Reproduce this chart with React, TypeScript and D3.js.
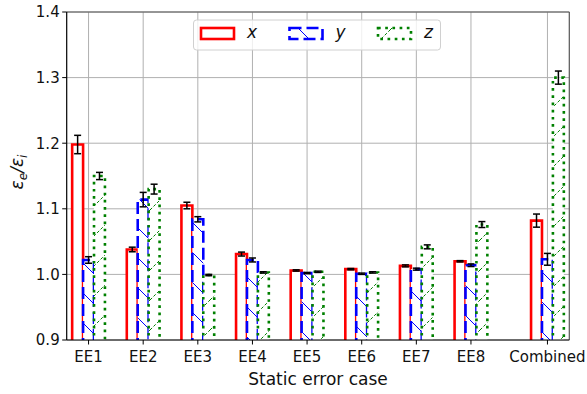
import React from "react";
import * as d3 from "d3";

// values
const categories = ["EE1", "EE2", "EE3", "EE4", "EE5", "EE6", "EE7", "EE8", "Combined"];
const xValues = [1.198, 1.038, 1.105, 1.031, 1.006, 1.008, 1.013, 1.02, 1.082];
const xErrors = [0.014, 0.0035, 0.005, 0.003, 0.001, 0.001, 0.0015, 0.001, 0.01];
const yValues = [1.022, 1.114, 1.084, 1.022, 1.002, 1.001, 1.008, 1.014, 1.023];
const yErrors = [0.005, 0.011, 0.004, 0.003, 0.001, 0.001, 0.0015, 0.002, 0.009];
const zValues = [1.15, 1.13, 0.999, 1.003, 1.004, 1.003, 1.042, 1.076, 1.3];
const zErrors = [0.0055, 0.0075, 0.001, 0.001, 0.001, 0.001, 0.003, 0.0045, 0.01];
const yTicks = [0.9, 1.0, 1.1, 1.2, 1.3, 1.4];

const width = 587;
const height = 394;
const margin = { left: 66.7, right: 17.7, top: 12, bottom: 54 };
const barWidth = 0.2;
const combinedGap = 0.4;
const font = "DejaVu Sans, Verdana, sans-serif";

const series = [
  { name: "x", values: xValues, errors: xErrors, color: "red", dash: "", hatch: "" },
  { name: "y", values: yValues, errors: yErrors, color: "blue", dash: "12,5", hatch: "hatchBack" },
  { name: "z", values: zValues, errors: zErrors, color: "green", dash: "2.7,4.5", hatch: "hatchFwd" },
];

const positions = categories.map((c, i) => (c === "Combined" ? i + combinedGap : i));

const App = () => {
  const x = d3
    .scaleLinear()
    .domain([-0.4, 8.8])
    .range([margin.left, width - margin.right]);
  const y = d3
    .scaleLinear()
    .domain([0.9, 1.4])
    .range([height - margin.bottom, margin.top]);

  const x0 = x.range()[0];
  const x1 = x.range()[1];
  const yb = y.range()[0];
  const yt = y.range()[1];
  const bw = x(barWidth) - x(0);

  return (
    <svg width={width} height={height} style={{ position: "absolute", left: 0, top: 0 }}>
      <defs>
        <clipPath id="plotArea">
          <rect x={x0} y={yt} width={x1 - x0} height={yb - yt} />
        </clipPath>
        <pattern id="hatchBack" patternUnits="userSpaceOnUse" width={30} height={30}>
          <path d="M0,0 L30,30 M-5,25 L5,35 M25,-5 L35,5" stroke="blue" strokeWidth={1} />
        </pattern>
        <pattern id="hatchFwd" patternUnits="userSpaceOnUse" width={30} height={30}>
          <path
            d="M0,30 L30,0 M-5,5 L5,-5 M25,35 L35,25"
            stroke="green"
            strokeWidth={1}
            strokeDasharray="3,2"
          />
        </pattern>
      </defs>
      <rect x={0} y={0} width={width} height={height} fill="white" />

      {/* grid */}
      <g stroke="#b0b0b0" strokeWidth={1}>
        {yTicks.map((t) => (
          <line key={"gy" + t} x1={x0} x2={x1} y1={y(t)} y2={y(t)} />
        ))}
        {positions.map((p, i) => (
          <line key={"gx" + i} x1={x(p)} x2={x(p)} y1={yt} y2={yb} />
        ))}
      </g>

      {/* bars */}
      <g clipPath="url(#plotArea)">
        {series.map((s, si) =>
          s.values.map((v, i) => {
            const left = x(positions[i] + (si - 1) * barWidth - barWidth / 2);
            const top = y(v);
            const bottom = yb + 10;
            return (
              <g key={s.name + i}>
                <rect x={left} y={top} width={bw} height={bottom - top} fill="white" />
                {s.hatch && (
                  <rect x={left} y={top} width={bw} height={bottom - top} fill={`url(#${s.hatch})`} />
                )}
                <path
                  d={`M${left},${bottom} L${left},${top} L${left + bw},${top} L${left + bw},${bottom}`}
                  fill="none"
                  stroke={s.color}
                  strokeWidth={2.6}
                  strokeDasharray={s.dash || undefined}
                />
              </g>
            );
          })
        )}
      </g>

      {/* error bars */}
      <g stroke="black" strokeWidth={1.5}>
        {series.map((s, si) =>
          s.values.map((v, i) => {
            const cx = x(positions[i] + (si - 1) * barWidth);
            const ya = y(v + s.errors[i]);
            const yz = y(v - s.errors[i]);
            return (
              <g key={"e" + s.name + i}>
                <line x1={cx} x2={cx} y1={ya} y2={yz} />
                <line x1={cx - 3.5} x2={cx + 3.5} y1={ya} y2={ya} />
                <line x1={cx - 3.5} x2={cx + 3.5} y1={yz} y2={yz} />
              </g>
            );
          })
        )}
      </g>

      {/* spines */}
      <line x1={x0} x2={x1} y1={yt} y2={yt} stroke="#555" strokeWidth={1.2} />
      <line x1={x1} x2={x1} y1={yt} y2={yb} stroke="#555" strokeWidth={1.2} />
      <line x1={x0} x2={x0} y1={yt} y2={yb} stroke="black" strokeWidth={1.2} />
      <line x1={x0} x2={x1} y1={yb} y2={yb} stroke="black" strokeWidth={1.2} />

      {/* y axis ticks */}
      <g fontFamily={font} fontSize={15} fill="#111">
        {yTicks.map((t) => (
          <g key={"ty" + t}>
            <line x1={x0 - 4.5} x2={x0} y1={y(t)} y2={y(t)} stroke="black" strokeWidth={1} />
            <text x={x0 - 7} y={y(t)} dy="0.36em" textAnchor="end">
              {d3.format(".1f")(t)}
            </text>
          </g>
        ))}
        {positions.map((p, i) => (
          <g key={"tx" + i}>
            <line x1={x(p)} x2={x(p)} y1={yb} y2={yb + 4.5} stroke="black" strokeWidth={1} />
            <text x={x(p)} y={yb + 21.5} textAnchor="middle">
              {categories[i]}
            </text>
          </g>
        ))}
      </g>

      {/* axis labels */}
      <text
        x={(x0 + x1) / 2}
        y={385}
        textAnchor="middle"
        fontFamily={font}
        fontSize={17}
        fill="#111"
      >
        Static error case
      </text>
      <text
        transform={`translate(23,${(yt + yb) / 2 - 4}) rotate(-90)`}
        textAnchor="middle"
        fontFamily={font}
        fontSize={17}
        fontStyle="italic"
        fill="#111"
      >
        ε<tspan fontSize={12} dy={4}>e</tspan>
        <tspan dy={-4}>/ε</tspan>
        <tspan fontSize={12} dy={4}>i</tspan>
      </text>

      {/* legend */}
      <g>
        <rect x={193.5} y={20} width={247} height={30} rx={3} fill="white" fillOpacity={0.8} stroke="#d0d0d0" />
        {series.map((s, si) => {
          const lx = 201 + si * 88.5;
          const ly = 28;
          return (
            <g key={"lg" + s.name}>
              <rect x={lx} y={ly} width={33} height={11} fill="white" />
              {s.hatch && <rect x={lx} y={ly} width={33} height={11} fill={`url(#${s.hatch})`} />}
              <rect
                x={lx}
                y={ly}
                width={33}
                height={11}
                fill="none"
                stroke={s.color}
                strokeWidth={2.6}
                strokeDasharray={s.dash || undefined}
              />
              <text
                x={lx + 46}
                y={ly + 10}
                fontFamily={font}
                fontSize={17}
                fontStyle="italic"
                fill="#111"
              >
                {s.name}
              </text>
            </g>
          );
        })}
      </g>
    </svg>
  );
};

export default App;
